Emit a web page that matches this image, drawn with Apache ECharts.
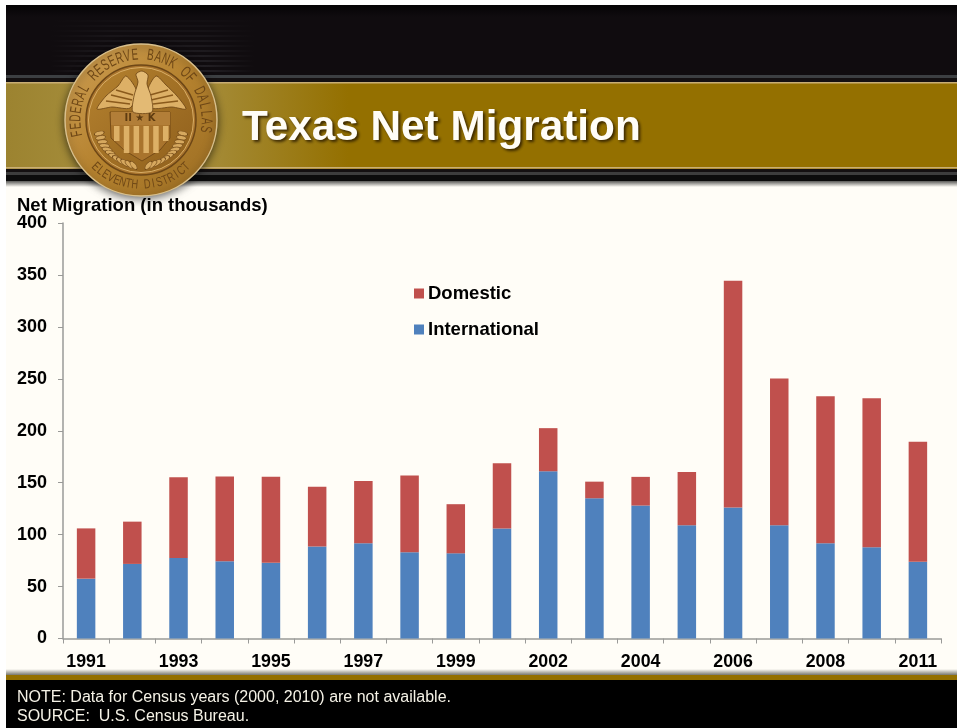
<!DOCTYPE html>
<html>
<head>
<meta charset="utf-8">
<title>Texas Net Migration</title>
<script src="https://cdn.jsdelivr.net/npm/echarts@6/dist/echarts.min.js"></script>
<style>
  html, body { margin: 0; padding: 0; background: #fff; overflow: hidden; }
  #chart { width: 957px; height: 728px; }
</style>
</head>
<body>
<div id="chart"></div>
<script>
const years = ['1991', '1992', '1993', '1994', '1995', '1996', '1997', '1998', '1999',
  '2001', '2002', '2003', '2004', '2005', '2006', '2007', '2008', '2009', '2011']
const international = [57.6, 71.8, 77.6, 74.4, 73, 88.5, 91.7, 83, 82,
  106, 161, 135, 128, 109, 126, 109, 91.7, 87.9, 74]
const domestic = [48.4, 40.7, 77.7, 81.5, 82.6, 57.5, 60, 73.8, 47.3,
  62.8, 41.5, 16, 27.6, 51.4, 218.4, 141.3, 141.6, 143.5, 115.3]

const FONT = '"Liberation Sans", Arial, sans-serif'
const CREAM = '#FFFDF7'
const GOLD = '#947000'

const vGrad = (stops) => ({
  type: 'linear', x: 0, y: 0, x2: 0, y2: 1,
  colorStops: stops.map((c) => ({ offset: c[0], color: c[1] }))
})
const hGrad = (stops) => ({
  type: 'linear', x: 0, y: 0, x2: 1, y2: 0,
  colorStops: stops.map((c) => ({ offset: c[0], color: c[1] }))
})
const band = (x, y, width, height, fill) => ({ type: 'rect', shape: { x, y, width, height }, style: { fill }, silent: true })

// 幻灯片背景
const slide = [
  band(6, 5, 951, 723, '#000'),
  band(6, 5, 951, 71, '#100C0F'),
  band(6, 5, 951, 12, vGrad([[0, '#050305'], [1, '#100C0F']]))
]
for (let y = 20; y < 75; y += 5) {
  const alpha = 0.08 + (y - 20) / 130
  slide.push(band(50, y, 205, 2, hGrad([[0, 'rgba(60,58,64,0)'], [0.3, 'rgba(60,58,64,' + alpha + ')'], [0.75, 'rgba(60,58,64,' + alpha + ')'], [1, 'rgba(60,58,64,0)']])))
}
slide.push(
  band(6, 75, 951, 3, '#3C3F42'),
  band(6, 78, 951, 4, '#141011'),
  band(6, 82, 951, 87, hGrad([[0, '#9C8330'], [0.1, '#A68E3C'], [0.22, '#A48A35'], [0.36, GOLD], [1, GOLD]])),
  band(6, 82, 951, 1.5, '#C9AE74'),
  band(6, 167, 951, 1.5, '#C9AE74'),
  band(6, 169, 951, 3, '#141011'),
  band(6, 172, 951, 3, '#3D3D3D'),
  band(6, 175, 951, 6, '#0C0C0C'),
  band(6, 181, 951, 494, CREAM),
  band(6, 181, 951, 6, vGrad([[0, '#5A5A58'], [1, CREAM]])),
  band(6, 669, 951, 6, vGrad([[0, CREAM], [1, '#77776F']])),
  band(6, 675, 951, 5, GOLD)
)

// 徽章
const cx = 141
const cy = 120
const medal = [
  { type: 'circle', shape: { cx, cy, r: 76 }, silent: true, style: {
    fill: { type: 'linear', x: 0, y: 0, x2: 1, y2: 1, colorStops: [{ offset: 0, color: '#CFA055' }, { offset: 0.5, color: '#B5822F' }, { offset: 1, color: '#9A6C22' }] },
    stroke: '#D9C08C', lineWidth: 1.5, shadowBlur: 8, shadowColor: 'rgba(0,0,0,0.6)', shadowOffsetY: 2
  } },
  { type: 'circle', shape: { cx, cy, r: 55 }, silent: true, style: { fill: '#A9742D', stroke: '#6E4716', lineWidth: 1.5 } },
  { type: 'circle', shape: { cx, cy, r: 52.5 }, silent: true, style: {
    fill: { type: 'linear', x: 0, y: 0, x2: 1, y2: 1, colorStops: [{ offset: 0, color: '#B5822F' }, { offset: 1, color: '#8F5F1C' }] },
    stroke: '#D9AE66', lineWidth: 1
  } }
]

// 沿圆弧放置文字, 角度从正上方顺时针
const arcText = (text, startDeg, endDeg, radius, bottom, size, sx) => {
  const chars = text.split('')
  chars.forEach((ch, i) => {
    const deg = startDeg + (endDeg - startDeg) * i / (chars.length - 1)
    const rad = deg * Math.PI / 180
    medal.push({
      type: 'text', silent: true,
      x: cx + radius * Math.sin(rad),
      y: cy - radius * Math.cos(rad),
      rotation: bottom ? Math.PI - rad : -rad,
      scaleX: sx,
      style: { text: ch, fill: '#6E4716', font: size + 'px ' + FONT, align: 'center', verticalAlign: 'middle' }
    })
  })
}
arcText('FEDERAL RESERVE BANK OF DALLAS', -102, 98, 65, false, 16, 0.62)
arcText('ELEVENTH DISTRICT', 224, 136, 65, true, 13, 0.72)

const poly = (points, fill) => ({ type: 'polygon', silent: true, shape: { points, smooth: 0.25 }, style: { fill, stroke: '#6B4313', lineWidth: 0.8 } })
const stroke = (points) => ({ type: 'polyline', silent: true, shape: { points }, style: { fill: 'none', stroke: '#8A5A1C', lineWidth: 1.6 } })

// 鹰和翅膀
medal.push(
  poly([[97, 109], [106, 96], [118, 86], [126, 76], [137, 92], [130, 108], [112, 107]], '#DDB066'),
  poly([[186, 109], [177, 96], [166, 85], [156, 76], [147, 92], [152, 108], [172, 107]], '#DDB066'),
  stroke([[116, 90], [133, 95]]), stroke([[111, 95], [132, 100]]), stroke([[106, 101], [130, 104]]),
  stroke([[168, 90], [150, 95]]), stroke([[173, 95], [151, 100]]), stroke([[178, 101], [153, 104]]),
  { type: 'polygon', silent: true, shape: { points: [[110, 112], [170, 112], [170, 138], [160, 150], [142, 161], [124, 150], [111, 138]] }, style: { fill: '#A9742D', stroke: '#6B4313', lineWidth: 0.8 } },
  band(111, 112, 59, 13, '#B27E38'),
  poly([[136, 74], [142, 71], [148, 75], [147, 84], [151, 96], [152, 112], [133, 112], [134, 96], [138, 82]], '#E3BA74')
)
for (let x = 114; x <= 164; x += 9.8) {
  medal.push(band(x, 126, 5.5, x > 122 && x < 158 ? 27 : 15, '#DDB066'))
}
medal.push({
  type: 'text', silent: true, x: 140, y: 118,
  style: { text: 'II ★ K', fill: '#5E3B10', font: 'bold 10px "DejaVu Sans"', align: 'center', verticalAlign: 'middle' }
})

// 花环叶子
for (let deg = 104; deg <= 170; deg += 6) {
  [1, -1].forEach((side) => {
    const rad = deg * Math.PI / 180
    medal.push({
      type: 'circle', silent: true,
      x: cx + side * 43 * Math.sin(rad),
      y: cy + 3 - 43 * Math.cos(rad),
      rotation: side * (rad - Math.PI / 2) - 0.5 * side,
      scaleX: 2.3,
      shape: { cx: 0, cy: 0, r: 2.2 },
      style: { fill: '#D6A85E', stroke: '#6B4313', lineWidth: 0.4 }
    })
  })
}

const option = {
  animation: false,
  backgroundColor: 'transparent',
  textStyle: { fontFamily: FONT },
  title: [
    {
      text: 'Texas Net Migration', left: 242, top: 107, padding: 0,
      textStyle: {
        fontFamily: FONT, fontSize: 42.3, fontWeight: 'bold', color: '#FFFDF7',
        textShadowBlur: 3, textShadowColor: 'rgba(40,25,0,0.85)', textShadowOffsetX: 2, textShadowOffsetY: 2
      }
    },
    {
      text: 'Net Migration (in thousands)', left: 17, top: 196, padding: 0,
      textStyle: { fontFamily: FONT, fontSize: 18.5, fontWeight: 'bold', color: '#000' }
    },
    {
      text: 'NOTE: Data for Census years (2000, 2010) are not available.\nSOURCE:  U.S. Census Bureau.',
      left: 17, top: 688, padding: 0,
      textStyle: { fontFamily: FONT, fontSize: 16, fontWeight: 'normal', color: '#F5F2E6', lineHeight: 19 }
    }
  ],
  legend: {
    orient: 'vertical', left: 409, top: 279,
    icon: 'rect', itemWidth: 10, itemHeight: 10, itemGap: 17,
    data: ['Domestic', 'International'],
    textStyle: { fontFamily: FONT, fontSize: 18.5, fontWeight: 'bold', color: '#000', padding: [0, 0, 0, -1] }
  },
  grid: { left: 63, top: 223, width: 878, height: 415.5, containLabel: false },
  xAxis: {
    type: 'category',
    data: years,
    axisLine: { lineStyle: { color: '#9A9A98', width: 1.5 } },
    axisTick: { show: true, length: 5, interval: 0, lineStyle: { color: '#9A9A98', width: 1 } },
    axisLabel: { interval: 1, margin: 15, color: '#000', fontFamily: FONT, fontSize: 17.8, fontWeight: 'bold' }
  },
  yAxis: {
    type: 'value',
    min: 0,
    max: 400,
    interval: 50,
    axisLine: { show: true, lineStyle: { color: '#9A9A98', width: 1.5 } },
    axisTick: { show: true, length: 5, lineStyle: { color: '#9A9A98', width: 1 } },
    splitLine: { show: false },
    axisLabel: { margin: 16, padding: [5, 0, 0, 0], color: '#000', fontFamily: FONT, fontSize: 18, fontWeight: 'bold' }
  },
  series: [
    { name: 'International', type: 'bar', stack: 'total', barWidth: 18.5, data: international, itemStyle: { color: '#4F81BD' } },
    { name: 'Domestic', type: 'bar', stack: 'total', barWidth: 18.5, data: domestic, itemStyle: { color: '#C0504D' } }
  ],
  graphic: { elements: slide.concat(medal) }
}

const chart = echarts.init(document.getElementById('chart'), null, { renderer: 'canvas' })
chart.setOption(option)
window.addEventListener('resize', () => chart.resize())
</script>
</body>
</html>
